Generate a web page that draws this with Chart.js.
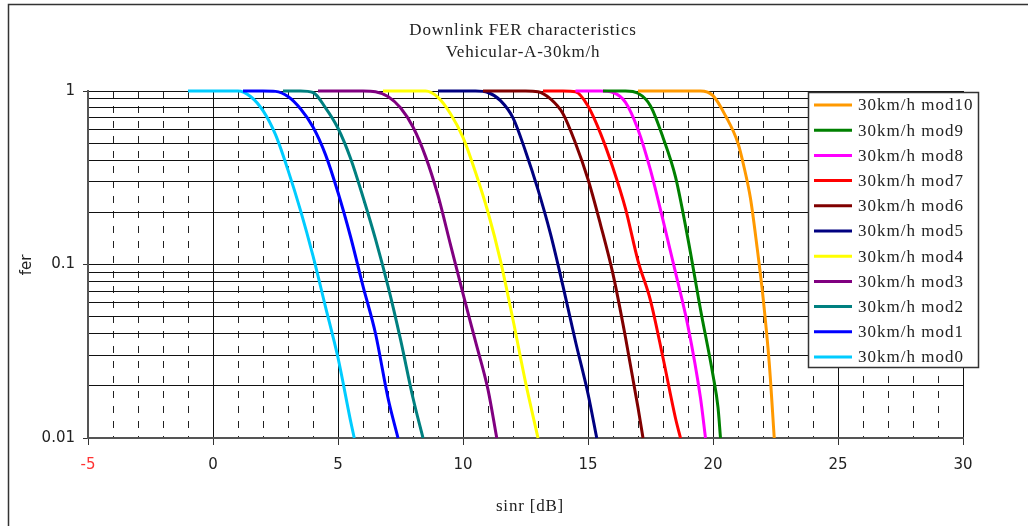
<!DOCTYPE html>
<html>
<head>
<meta charset="utf-8">
<script src="https://cdn.jsdelivr.net/npm/chart.js@4/dist/chart.umd.min.js"></script>
<style>
  body { margin: 0; background: #fff; }
  canvas { display: block; }
</style>
</head>
<body>
<canvas id="fer" width="1028" height="526"></canvas>
<script>
// sinr [dB] / fer points, one pair of arrays per modulation
const sinr0 = [-1, 0, 1, 1.5, 2, 2.5, 3, 3.5, 4, 4.5, 5, 5.5, 5.65];
const fer0 = [1, 1, 1, 0.93, 0.77, 0.56, 0.35, 0.205, 0.112, 0.057, 0.029, 0.0126, 0.01];
const sinr1 = [1.2, 2, 2.5, 3, 3.5, 4, 4.5, 5, 5.5, 6, 6.5, 7, 7.4];
const fer1 = [1, 1, 0.995, 0.93, 0.79, 0.62, 0.43, 0.26, 0.145, 0.075, 0.04, 0.017, 0.01];
const sinr2 = [2.8, 3.5, 4, 4.5, 5, 5.5, 6, 6.5, 7, 7.5, 8, 8.4];
const fer2 = [1, 1, 0.98, 0.8, 0.61, 0.41, 0.245, 0.14, 0.075, 0.037, 0.017, 0.01];
const sinr3 = [4.2, 6, 6.5, 7, 7.5, 8, 8.5, 9, 9.5, 10, 10.5, 11, 11.35];
const fer3 = [1, 1, 0.99, 0.93, 0.8, 0.62, 0.42, 0.25, 0.13, 0.068, 0.036, 0.019, 0.01];
const sinr4 = [6.8, 8.5, 9, 9.5, 10, 10.5, 11, 11.5, 12, 12.5, 13];
const fer4 = [1, 1, 0.92, 0.74, 0.54, 0.34, 0.2, 0.105, 0.048, 0.021, 0.01];
const sinr5 = [9, 10.5, 11, 11.5, 12, 12.5, 13, 13.5, 14, 14.5, 15, 15.35];
const fer5 = [1, 1, 0.98, 0.88, 0.7, 0.45, 0.27, 0.15, 0.075, 0.036, 0.018, 0.01];
const sinr6 = [10.8, 12.5, 13, 13.5, 14, 14.5, 15, 15.5, 16, 16.5, 17, 17.2];
const fer6 = [1, 1, 0.99, 0.9, 0.74, 0.5, 0.31, 0.17, 0.088, 0.038, 0.015, 0.01];
const sinr7 = [13.2, 14, 14.5, 15, 15.5, 16, 16.5, 17, 17.5, 18, 18.5, 18.7];
const fer7 = [1, 1, 0.99, 0.82, 0.57, 0.36, 0.21, 0.105, 0.062, 0.029, 0.013, 0.01];
const sinr8 = [14.5, 15.5, 16, 16.5, 17, 17.5, 18, 18.5, 19, 19.5, 19.7];
const fer8 = [1, 1, 0.98, 0.86, 0.6, 0.35, 0.18, 0.09, 0.044, 0.017, 0.01];
const sinr9 = [15.6, 16.5, 17, 17.5, 18, 18.5, 19, 19.5, 20, 20.2, 20.3];
const fer9 = [1, 1, 0.97, 0.82, 0.54, 0.32, 0.14, 0.055, 0.023, 0.015, 0.01];
const sinr10 = [17, 19.5, 20, 20.5, 21, 21.25, 21.5, 21.75, 22, 22.25, 22.45];
const fer10 = [1, 1, 0.94, 0.72, 0.5, 0.36, 0.24, 0.13, 0.065, 0.027, 0.01];

const labels = ["30km/h mod0", "30km/h mod1", "30km/h mod2", "30km/h mod3", "30km/h mod4",
  "30km/h mod5", "30km/h mod6", "30km/h mod7", "30km/h mod8", "30km/h mod9", "30km/h mod10"];
const colors = ["#00ccff", "#0000ff", "#008080", "#800080", "#ffff00",
  "#000080", "#800000", "#ff0000", "#ff00ff", "#008000", "#ff9900"];
const sinrs = [sinr0, sinr1, sinr2, sinr3, sinr4, sinr5, sinr6, sinr7, sinr8, sinr9, sinr10];
const fers = [fer0, fer1, fer2, fer3, fer4, fer5, fer6, fer7, fer8, fer9, fer10];

const yTicks = [0.01, 0.02, 0.03, 0.04, 0.05, 0.06, 0.07, 0.08, 0.09,
  0.1, 0.2, 0.3, 0.4, 0.5, 0.6, 0.7, 0.8, 0.9, 1];
const yMajor = [0.01, 0.1, 1];
const yLabels = ["0.01", "0.1", "1"];
const titleLines = ["Downlink FER characteristics", "Vehicular-A-30km/h"];
const xTitle = "sinr [dB]";
const yTitle = "fer";

// mod10 first so it is drawn on top and listed first
const datasets = [];
for (let i = labels.length - 1; i >= 0; i--) {
  datasets.push({
    label: labels[i],
    data: sinrs[i].map((x, k) => ({ x: x, y: fers[i][k] })),
    borderColor: colors[i],
    backgroundColor: colors[i],
    borderWidth: 3,
    pointRadius: 0,
    cubicInterpolationMode: "monotone",
    clip: false,
  });
}

const decor = {
  id: "decor",
  beforeDraw(chart) {
    const ctx = chart.ctx;
    ctx.save();
    ctx.fillStyle = "#fff";
    ctx.fillRect(0, 0, chart.width, chart.height);
    ctx.strokeStyle = "#333";
    ctx.lineWidth = 1.5;
    ctx.beginPath();
    ctx.moveTo(8.5, chart.height);
    ctx.lineTo(8.5, 4.5);
    ctx.lineTo(chart.width, 4.5);
    ctx.stroke();
    ctx.restore();
  },
  afterDraw(chart) {
    const ctx = chart.ctx;
    ctx.save();
    ctx.fillStyle = "#222";
    ctx.textAlign = "center";
    ctx.textBaseline = "middle";
    ctx.font = '17px "Liberation Serif"';
    ctx.letterSpacing = "0.8px";
    ctx.fillText(titleLines[0], 523, 31);
    ctx.fillText(titleLines[1], 523, 53);
    ctx.fillText(xTitle, 530, 507);
    ctx.letterSpacing = "0px";

    ctx.save();
    ctx.translate(27, 265);
    ctx.rotate(-Math.PI / 2);
    ctx.font = '15px "DejaVu Sans"';
    ctx.fillText(yTitle, 0, 0);
    ctx.restore();

    // legend box over the plot
    ctx.fillStyle = "#fff";
    ctx.fillRect(808, 92, 170, 275);
    ctx.strokeStyle = "#333";
    ctx.lineWidth = 1.5;
    ctx.strokeRect(808.5, 92.5, 170, 275);
    ctx.font = '17px "Liberation Serif"';
    ctx.letterSpacing = "1px";
    ctx.textAlign = "left";
    chart.data.datasets.forEach((ds, i) => {
      const y = 105 + i * 25.2;
      ctx.strokeStyle = ds.borderColor;
      ctx.lineWidth = 3;
      ctx.beginPath();
      ctx.moveTo(814, y);
      ctx.lineTo(852, y);
      ctx.stroke();
      ctx.fillStyle = "#222";
      ctx.fillText(ds.label, 858, y + 1);
    });
    ctx.restore();
  },
};

new Chart("fer", {
  type: "line",
  data: { datasets: datasets },
  plugins: [decor],
  options: {
    responsive: false,
    animation: false,
    events: [],
    layout: { padding: { top: 91, right: 65, left: 0, bottom: 0 } },
    plugins: {
      legend: { display: false },
      tooltip: { enabled: false },
      title: { display: false },
    },
    scales: {
      xMinor: {
        type: "linear",
        position: "top",
        min: -5,
        max: 30,
        ticks: { display: false, stepSize: 1 },
        grid: { color: "#222", lineWidth: 1, drawTicks: false },
        border: { display: false, dash: [7, 8] },
        afterFit: (s) => { s.height = 0; },
      },
      x: {
        type: "linear",
        position: "bottom",
        min: -5,
        max: 30,
        ticks: {
          stepSize: 5,
          padding: 11,
          font: { family: "DejaVu Sans", size: 15 },
          color: (c) => (c.tick && c.tick.value === -5 ? "#ff3333" : "#222"),
        },
        grid: { color: "#111", lineWidth: 1, tickLength: 7, tickColor: "#333" },
        border: { color: "#555", width: 2 },
        afterFit: (s) => { s.height = 88; },
      },
      y: {
        type: "logarithmic",
        position: "left",
        min: 0.01,
        max: 1,
        afterBuildTicks: (s) => { s.ticks = yTicks.map((v) => ({ value: v })); },
        ticks: {
          autoSkip: false,
          padding: 8,
          font: { family: "DejaVu Sans", size: 15 },
          color: "#222",
          callback: (v) => {
            const i = yMajor.indexOf(v);
            return i < 0 ? "" : yLabels[i];
          },
        },
        grid: {
          color: "#111",
          lineWidth: 1,
          tickLength: 5,
          tickColor: (c) => (c.tick && yMajor.includes(c.tick.value) ? "#333" : "rgba(0,0,0,0)"),
        },
        border: { color: "#555", width: 2 },
        afterFit: (s) => { s.width = 88; },
      },
    },
  },
});
</script>
</body>
</html>
